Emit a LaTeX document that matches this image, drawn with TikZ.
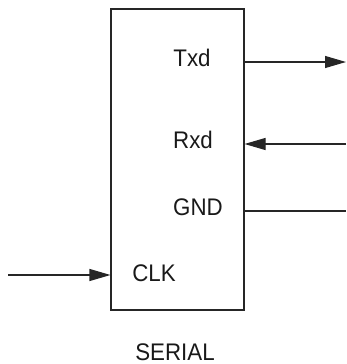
\documentclass[tikz,border=0pt]{standalone}
\usepackage{fontspec}
\setmainfont{Liberation Sans}[FakeStretch=0.93]
\usetikzlibrary{arrows.meta}
\begin{document}
\begin{tikzpicture}[x=1pt,y=-1pt,
  lbl/.style={inner sep=0pt,text=black!90,font=\fontsize{24}{27}\selectfont},
  wire/.style={line width=1.1pt,draw=black!85},
  tip/.style={-{Triangle[length=21pt,width=12pt]}}]
\useasboundingbox (0,0) rectangle (346,364);
\node[draw=black!85,line width=1.1pt,minimum width=133pt,minimum height=301pt,inner sep=0pt] (box) at (177.5,159.5) {};
\node[lbl] (txd) at (192,58) {Txd};
\node[lbl] (rxd) at (193,140) {Rxd};
\node[lbl] (gnd) at (198,207) {GND};
\node[lbl] (clk) at (154,273) {CLK};
\node[lbl] (serial) at (175,352) {SERIAL};
\coordinate (txo) at (346,62);
\coordinate (rxi) at (346,144);
\coordinate (gno) at (346,211);
\coordinate (cki) at (8,275);
\draw[wire,tip] (box.east |- txo) -- (txo);
\draw[wire,tip] (rxi) -- (box.east |- rxi);
\draw[wire] (box.east |- gno) -- (gno);
\draw[wire,tip] (cki) -- (box.west |- cki);
\end{tikzpicture}
\end{document}
